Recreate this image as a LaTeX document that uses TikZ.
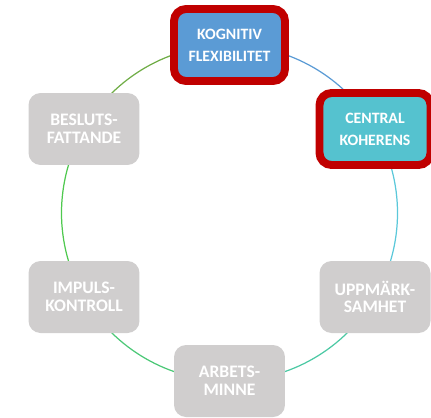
\documentclass[tikz,border=0pt]{standalone}
\usepackage{fontspec}
\setmainfont{Carlito}
\usepackage{tikz}
\usetikzlibrary{backgrounds}

\definecolor{kogblue}{HTML}{5B9BD5}
\definecolor{kohteal}{HTML}{55C2CF}
\definecolor{boxgrey}{HTML}{D0CECE}
\definecolor{hlred}{HTML}{C00000}
\definecolor{arcA}{HTML}{5B9BD5}
\definecolor{arcB}{HTML}{5BC8DA}
\definecolor{arcC}{HTML}{4CC9A4}
\definecolor{arcD}{HTML}{4CC877}
\definecolor{arcE}{HTML}{4FC94F}
\definecolor{arcF}{HTML}{70AD47}

\tikzset{
	box/.style={rectangle, rounded corners=0.24cm, minimum width=2.22cm, minimum height=1.44cm,
		fill=boxgrey, text=white, font=\fontsize{10}{10}\selectfont\bfseries, align=center},
	hlbox/.style={box, draw=hlred, line width=4.5pt, font=\fontsize{9}{12.5}\selectfont\bfseries},
	ring/.style={line width=0.7pt}
}

\begin{document}
\begin{tikzpicture}[x=0.02cm, y=0.02cm]
	\useasboundingbox (0,0) rectangle (431,417);
	
	\node[hlbox, fill=kogblue] (kog) at (229.5,372) {KOGNITIV\\FLEXIBILITET};
	\node[hlbox, fill=kohteal] (koh) at (375,288) {CENTRAL\\KOHERENS};
	\node[box] (upp) at (375,120) {UPPMÄRK-\\SAMHET};
	\node[box] (arb) at (229.5,36) {ARBETS-\\MINNE};
	\node[box] (imp) at (84,120) {IMPULS-\\KONTROLL};
	\node[box] (bes) at (84,288) {BESLUTS-\\FATTANDE};
	
	\begin{scope}[on background layer]
		\draw[ring, arcA] (kog.center) arc[start angle=90, end angle=30, radius=3.36cm];
		\draw[ring, arcB] (koh.center) arc[start angle=30, end angle=-30, radius=3.36cm];
		\draw[ring, arcC] (upp.center) arc[start angle=-30, end angle=-90, radius=3.36cm];
		\draw[ring, arcD] (arb.center) arc[start angle=-90, end angle=-150, radius=3.36cm];
		\draw[ring, arcE] (imp.center) arc[start angle=210, end angle=150, radius=3.36cm];
		\draw[ring, arcF] (bes.center) arc[start angle=150, end angle=90, radius=3.36cm];
	\end{scope}
\end{tikzpicture}
\end{document}
